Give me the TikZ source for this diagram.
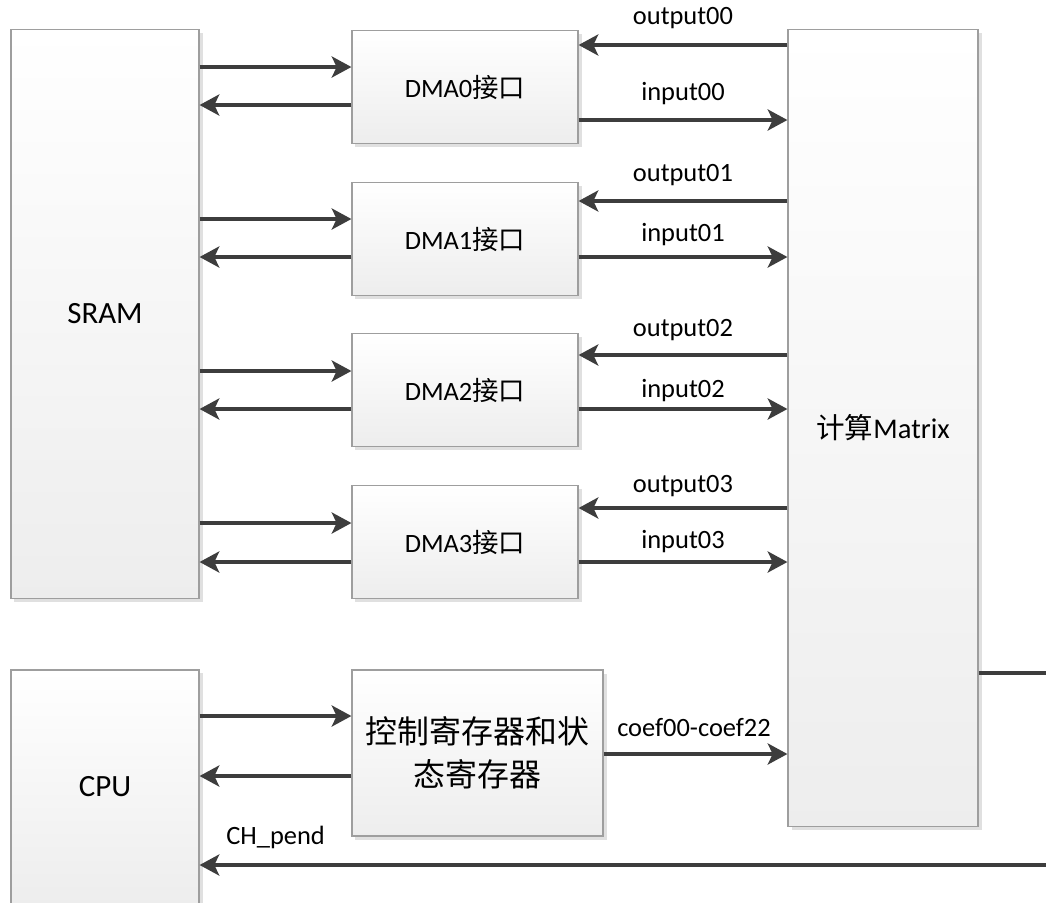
\documentclass[tikz,border=0pt]{standalone}
\usepackage{fontspec}
\setmainfont{Carlito}
\newfontfamily\cjk{Noto Sans CJK SC}
\usetikzlibrary{arrows.meta,shadows}

\begin{document}
\begin{tikzpicture}[x=0.025cm, y=-0.025cm,
  block/.style={draw=black!38, line width=0.8pt, top color=white, bottom color=black!7,
    general shadow={fill=black!12, shadow xshift=2.5pt, shadow yshift=-2.5pt}, inner sep=0pt},
  darrow/.style={-{Stealth[length=14pt, width=15pt, inset=3.5pt]}, line width=2.3pt, draw=black!76},
  sig/.style={font=\fontsize{18.8}{22}\selectfont, inner sep=0pt}]

\fill[white] (0,0) rectangle (1046,902);
\useasboundingbox (0,0) rectangle (1046,902);

% SRAM
\node[block, minimum width=4.7cm, minimum height=14.2cm, font=\fontsize{22}{26}\selectfont] (sram) at (105,314) {SRAM};

% CPU
\node[block, minimum width=4.7cm, minimum height=5.85cm, font=\fontsize{22}{26}\selectfont] (cpu) at (105,787) {CPU};

% DMA interfaces
\foreach \i/\cy in {0/87, 1/239, 2/390, 3/542}
  \node[block, minimum width=5.65cm, minimum height=2.82cm, font=\fontsize{18.8}{22}\selectfont] (dma\i) at (465,\cy) {DMA\i{\cjk 接口}};

% Control and status registers
\node[block, minimum width=6.275cm, minimum height=4.15cm, align=center, font=\cjk\fontsize{22.7}{30.6}\selectfont] (ctrl) at (477.5,753) {控制寄存器和状\\态寄存器};

% Matrix
\node[block, minimum width=4.75cm, minimum height=19.9cm, font=\fontsize{20.3}{24}\selectfont] (matrix) at (883,428) {{\cjk 计算}Matrix};

% Off-picture ends
\coordinate (mxout) at (1046,673);
\coordinate (pendsrc) at (1046,865);

% Arrows - SRAM / DMA / Matrix
\foreach \i/\ya/\yb/\yc/\lc/\yd/\ld in {0/67/105/45/18/120/94, 1/219/257/201/175/257/235, 2/371/409/355/330/409/391, 3/523/562/508/486/562/542}{
  \draw[darrow] (sram.east |- 0,\ya) -- (dma\i.west |- 0,\ya);
  \draw[darrow] (dma\i.west |- 0,\yb) -- (sram.east |- 0,\yb);
  \draw[darrow] (matrix.west |- 0,\yc) -- (dma\i.east |- 0,\yc);
  \draw[darrow] (dma\i.east |- 0,\yd) -- (matrix.west |- 0,\yd);
  \node[sig] (out\i) at (683,\lc) {output0\i};
  \node[sig] (in\i) at (683,\ld) {input0\i};
}

% Arrows - CPU / registers / Matrix
\draw[darrow] (cpu.east |- 0,716) -- (ctrl.west |- 0,716);
\draw[darrow] (ctrl.west |- 0,776) -- (cpu.east |- 0,776);
\draw[darrow] (ctrl.east |- 0,754) -- (matrix.west |- 0,754);
\node[sig] (coef) at (694,728) {coef00-coef22};

% Matrix output and CH_pend
\draw[line width=2.3pt, draw=black!76] (matrix.east |- mxout) -- (mxout);
\draw[darrow] (pendsrc) -- (cpu.east |- pendsrc);
\node[sig, anchor=west] (pend) at (226,837) {CH\_pend};

\end{tikzpicture}
\end{document}
